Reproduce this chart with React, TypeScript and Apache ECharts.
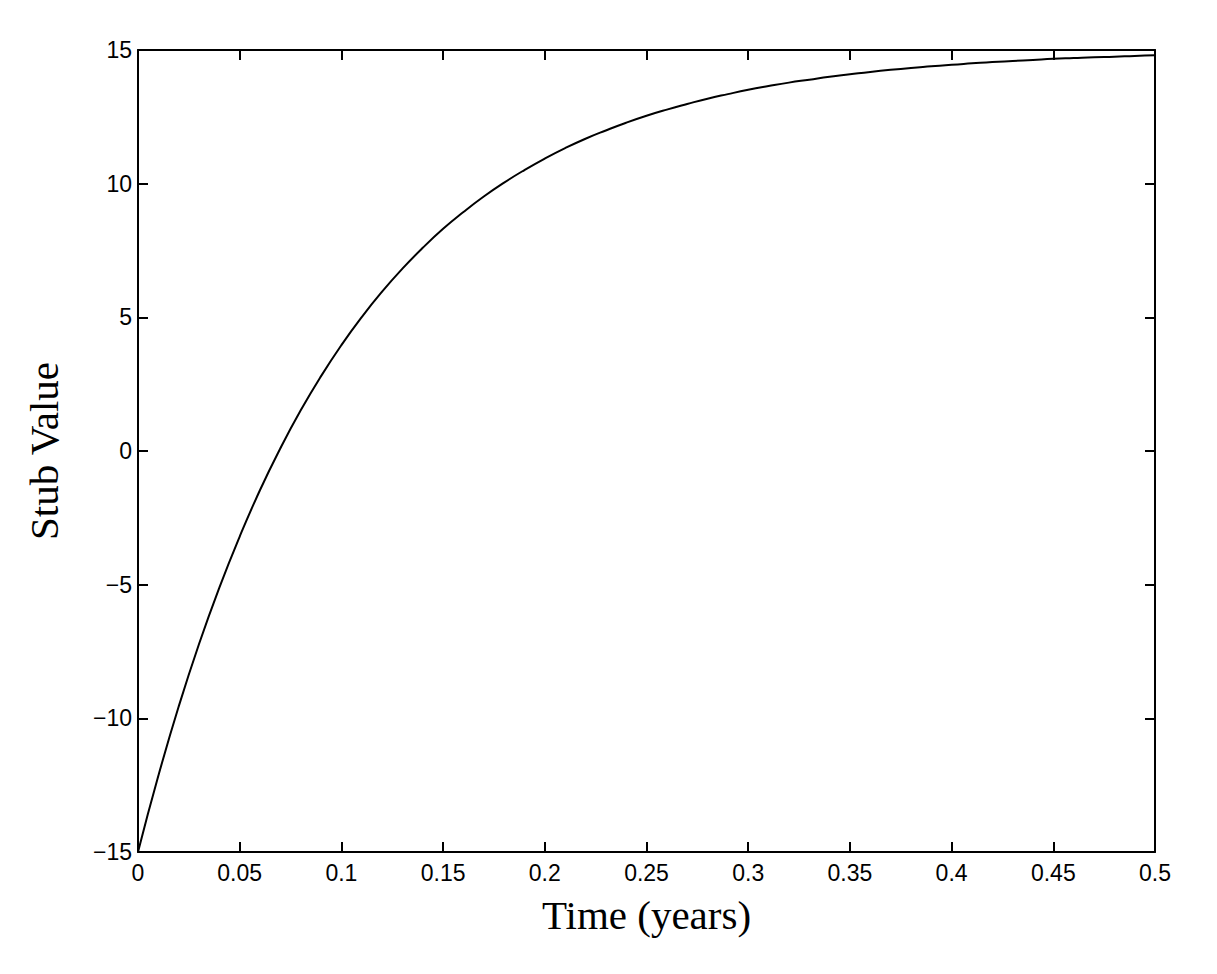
import React, { useEffect, useRef } from "react";
import * as echarts from "echarts";

const timeYears: number[] = [
  0, 0.01, 0.02, 0.03, 0.04, 0.05, 0.06, 0.07, 0.08, 0.09,
  0.1, 0.11, 0.12, 0.13, 0.14, 0.15, 0.16, 0.17, 0.18, 0.19,
  0.2, 0.21, 0.22, 0.23, 0.24, 0.25, 0.26, 0.27, 0.28, 0.29,
  0.3, 0.31, 0.32, 0.33, 0.34, 0.35, 0.36, 0.37, 0.38, 0.39,
  0.4, 0.41, 0.42, 0.43, 0.44, 0.45, 0.46, 0.47, 0.48, 0.49, 0.5,
];

const stubValue: number[] = [
  -15, -12.15, -9.56, -7.22, -5.11, -3.2, -1.46, 0.1, 1.52, 2.8,
  3.96, 5.01, 5.96, 6.82, 7.6, 8.31, 8.94, 9.52, 10.04, 10.51,
  10.94, 11.33, 11.68, 11.99, 12.28, 12.54, 12.77, 12.98, 13.18, 13.35,
  13.51, 13.65, 13.78, 13.89, 14.0, 14.09, 14.18, 14.26, 14.33, 14.39,
  14.45, 14.5, 14.55, 14.59, 14.63, 14.67, 14.7, 14.73, 14.75, 14.78, 14.8,
];

const xTicks = { min: 0, max: 0.5, interval: 0.05 };
const yTicks = { min: -15, max: 15, interval: 5 };

const xTitle = "Time (years)";
const yTitle = "Stub Value";

export default function App() {
  const ref = useRef<HTMLDivElement>(null);

  useEffect(() => {
    if (!ref.current) return;
    const chart = echarts.init(ref.current, null, { renderer: "svg" });

    const axisLine = { show: true, onZero: false, lineStyle: { color: "#000", width: 2 } };
    const axisTick = { show: true, inside: true, length: 10, lineStyle: { color: "#000", width: 2 } };
    const labelFont = {
      color: "#000",
      fontSize: 23,
      fontFamily: "'Liberation Sans', Arial, sans-serif",
    };
    const titleFont = {
      color: "#000",
      fontSize: 41,
      fontFamily: "'Liberation Serif', 'Times New Roman', serif",
    };

    const data = timeYears.map((t, i) => [t, stubValue[i]]);

    chart.setOption({
      animation: false,
      backgroundColor: "#fff",
      grid: { left: 130, right: 54, top: 42, bottom: 114, containLabel: false },
      xAxis: [
        {
          type: "value",
          position: "bottom",
          ...xTicks,
          axisLine,
          axisTick,
          splitLine: { show: false },
          axisLabel: { ...labelFont, margin: 9 },
          name: xTitle,
          nameLocation: "middle",
          nameGap: 42,
          nameTextStyle: titleFont,
        },
        {
          type: "value",
          position: "top",
          ...xTicks,
          axisLine,
          axisTick,
          splitLine: { show: false },
          axisLabel: { show: false },
        },
      ],
      yAxis: [
        {
          type: "value",
          position: "left",
          ...yTicks,
          axisLine,
          axisTick,
          splitLine: { show: false },
          axisLabel: {
            ...labelFont,
            margin: 6,
            formatter: (v: number) => String(v).replace("-", "\u2212"),
          },
          name: yTitle,
          nameLocation: "middle",
          nameGap: 74,
          nameTextStyle: titleFont,
        },
        {
          type: "value",
          position: "right",
          ...yTicks,
          axisLine,
          axisTick,
          splitLine: { show: false },
          axisLabel: { show: false },
        },
      ],
      series: [
        {
          type: "line",
          xAxisIndex: 0,
          yAxisIndex: 0,
          data,
          smooth: true,
          showSymbol: false,
          lineStyle: { color: "#000", width: 2 },
        },
      ],
    });

    return () => chart.dispose();
  }, []);

  return <div ref={ref} style={{ width: 1201, height: 958 }} />;
}
